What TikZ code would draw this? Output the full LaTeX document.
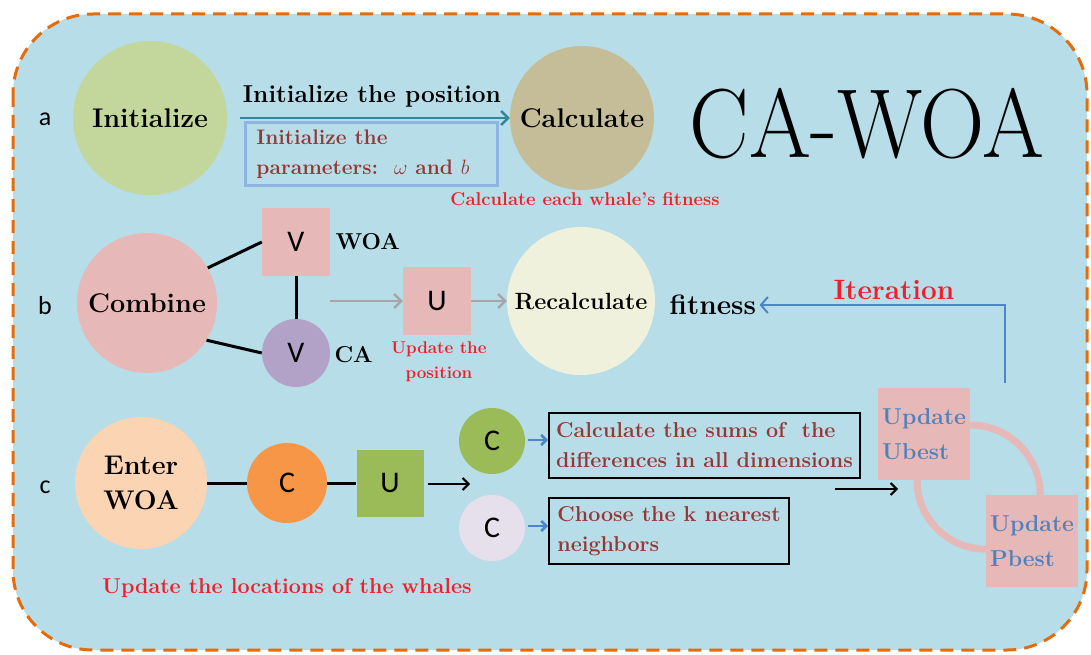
\documentclass[tikz,border=0pt]{standalone}
\usepackage{fontspec}
\newfontfamily\sansf{Carlito}
\usetikzlibrary{arrows.meta}
\definecolor{bgblue}{HTML}{B6DDE8}
\definecolor{borderor}{HTML}{E46C0A}
\definecolor{cinit}{HTML}{C3D69B}
\definecolor{ccalc}{HTML}{C4BD97}
\definecolor{cpink}{HTML}{E6B9B8}
\definecolor{clav}{HTML}{B3A2C7}
\definecolor{ccream}{HTML}{EFF1DD}
\definecolor{cpeach}{HTML}{FBD4B4}
\definecolor{corange}{HTML}{F79646}
\definecolor{cgreen}{HTML}{9BBB59}
\definecolor{clight}{HTML}{E5E0EC}
\definecolor{tbrown}{HTML}{953735}
\definecolor{tred}{HTML}{F01E28}
\definecolor{tblue}{HTML}{4F81BD}
\definecolor{boxblue}{HTML}{8EB4E3}
\definecolor{teal}{HTML}{31859C}
\definecolor{arrgray}{HTML}{A6A6A6}
\definecolor{arrblue}{HTML}{4A86C8}
\begin{document}
\begin{tikzpicture}[x=1pt,y=-1pt,
  bigc/.style={circle,inner sep=0pt,align=center,font=\fontsize{27}{35}\selectfont\bfseries},
  sq/.style={rectangle,inner sep=0pt,minimum size=68pt,fill=cpink,font=\sansf\fontsize{30}{34}\selectfont},
  smc/.style={circle,inner sep=0pt,font=\sansf\fontsize{30}{34}\selectfont},
  lbl/.style={font=\sansf\fontsize{26}{30}\selectfont},
  blk/.style={font=\fontsize{23}{27}\selectfont\bfseries},
  redt/.style={text=tred,font=\fontsize{18.5}{22}\selectfont\bfseries,align=center},
  brownbox/.style={draw=black,line width=2pt,text=tbrown,align=left,inner sep=3pt,font=\fontsize{21.5}{30}\selectfont\bfseries},
  upd/.style={rectangle,fill=cpink,inner sep=2pt,minimum size=92pt,text=tblue,align=left,font=\fontsize{23}{35}\selectfont\bfseries},
  conn/.style={line width=3pt,black},
  garr/.style={line width=2.5pt,arrgray,-{Straight Barb[length=7pt,width=14pt]}},
  barr/.style={line width=2.5pt,arrblue,-{Straight Barb[length=5pt,width=10pt]}},
  karr/.style={line width=2pt,black,-{Straight Barb[length=6pt,width=12pt]}},
  arcl/.style={line width=7pt,cpink}
]
\useasboundingbox (0,0) rectangle (1091,655);
\draw[fill=bgblue,draw=borderor,line width=3pt,dash pattern=on 13pt off 8pt,rounded corners=80pt] (13,14) rectangle (1087,650);

% row labels
\node[lbl] (la) at (45,119) {a};
\node[lbl] (lb) at (45,306) {b};
\node[lbl] (lc) at (45,487) {c};

% row a
\node[bigc,fill=cinit,minimum size=154pt] (init) at (150,118) {Initialize};
\node[bigc,fill=ccalc,minimum size=144pt] (calc) at (582,118) {Calculate};
\coordinate (ia) at (240,118);
\draw[line width=2.5pt,teal,-{Straight Barb[length=7pt,width=14pt]}] (ia) -- (calc.west);
\node[font=\fontsize{24.5}{28}\selectfont\bfseries] (initpos) at (372,96) {Initialize the position};
\node[draw=boxblue,line width=3pt,text=tbrown,align=left,minimum width=252pt,minimum height=62pt,inner sep=3pt,font=\fontsize{21}{30}\selectfont\bfseries] (params) at (371,154) {Initialize the\\parameters:\ \ $\omega$ and $b$\hspace*{16pt}};
\node[redt] (calcfit) at (585,199) {Calculate each whale’s fitness};
\node[font=\fontsize{98}{100}\selectfont] (title) at (867,124) {\scalebox{0.91}[1]{CA-WOA}};

% row b
\node[bigc,fill=cpink,minimum size=140pt] (comb) at (147,303) {Combine};
\node[sq] (vsq) at (296,242) {V};
\node[smc,fill=clav,minimum size=68pt] (vcirc) at (296,353) {V};
\node[blk,anchor=west] (woa) at (332,242) {WOA};
\node[blk,anchor=west] (ca) at (331,355) {CA};
\draw[conn] (comb.30) -- (vsq.west);
\draw[conn] (comb.-32) -- (vcirc.west);
\draw[conn] (vsq.south) -- (vcirc.north);
\coordinate (vmid) at (330,301);
\node[sq] (usq) at (437,301) {U};
\draw[garr] (vmid) -- (usq.west);
\node[redt,font=\fontsize{17}{25}\selectfont\bfseries] (updpos) at (439,362) {Update the\\position};
\node[bigc,fill=ccream,minimum size=148pt,font=\fontsize{23.5}{28}\selectfont\bfseries] (recalc) at (581,301) {Recalculate};
\draw[garr] (usq.east) -- (recalc.west);
\node[font=\fontsize{28}{32}\selectfont\bfseries,anchor=west] (fit) at (666,305) {fitness};
\node[text=tred,font=\fontsize{28}{32}\selectfont\bfseries] (iter) at (894,290) {Iteration};

% row c
\node[bigc,fill=cpeach,minimum size=132pt] (enter) at (141,483) {Enter\\WOA};
\node[smc,fill=corange,minimum size=80pt] (corg) at (287,483) {C};
\draw[conn] (enter.east |- corg.west) -- (corg.west);
\node[sq,fill=cgreen,minimum size=67pt] (usqg) at (390,483) {U};
\draw[conn] (corg.east) -- (usqg.west);
\coordinate (cst) at (428,484);
\coordinate (cend) at (470,484);
\draw[karr] (cst) -- (cend);
\node[smc,fill=cgreen,minimum size=66pt] (cg) at (492,441) {C};
\node[smc,fill=clight,minimum size=66pt] (cl) at (492,528) {C};
\node[brownbox,anchor=north west,minimum width=311pt,minimum height=65pt] (box1) at (548,412) {Calculate the sums of\ \ the\\differences in all dimensions};
\node[brownbox,anchor=north west,minimum width=240pt,minimum height=66pt] (box2) at (548,497) {Choose the k nearest\\neighbors};
\coordinate (cg2) at (528,440);
\coordinate (cl2) at (528,526);
\draw[barr] (cg2) -- (box1.west |- cg2);
\draw[barr] (cl2) -- (box2.west |- cl2);

\node[upd] (ubest) at (924,434) {Update\\Ubest};
\node[upd] (pbest) at (1032,541) {Update\\Pbest};
\draw[arcl] (ubest.east) ++(0,-9) arc[start angle=-90,end angle=0,radius=70];
\draw[arcl] (ubest.south) ++(-7,0) arc[start angle=180,end angle=90,radius=69];
\coordinate (ks) at (835,489);
\coordinate (ke) at (898,489);
\draw[karr] (ks) -- (ke);
\coordinate (itstart) at (1005,383);
\draw[line width=2pt,arrblue,-{Straight Barb[length=7pt,width=16pt]}] (itstart) |- (fit.east);

\node[text=tred,font=\fontsize{21.5}{24}\selectfont\bfseries] (updloc) at (287,588) {Update the locations of the whales};
\end{tikzpicture}
\end{document}
